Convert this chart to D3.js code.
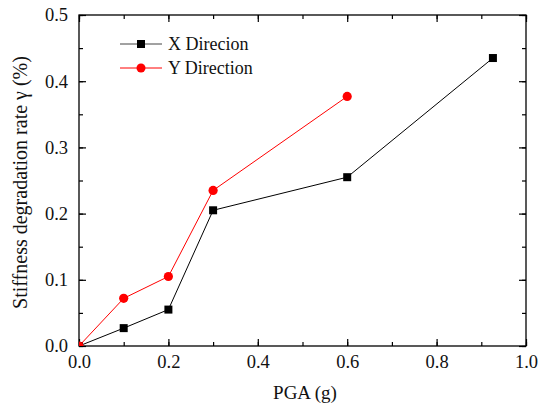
<!DOCTYPE html>
<html>
<head>
<meta charset="utf-8">
<script src="https://cdn.jsdelivr.net/npm/d3@7"></script>
<style>
  html, body { margin: 0; padding: 0; background: #fff; }
</style>
</head>
<body>
<svg id="chart" width="542" height="407"></svg>
<script>
// Stiffness degradation rate versus peak ground acceleration
const pgaX = [0, 0.1, 0.2, 0.3, 0.6, 0.926];
const rateX = [0, 0.027, 0.055, 0.205, 0.255, 0.435];
const pgaY = [0, 0.1, 0.2, 0.3, 0.6];
const rateY = [0, 0.072, 0.105, 0.235, 0.377];
const xTicks = [0, 0.2, 0.4, 0.6, 0.8, 1.0];
const yTicks = [0, 0.1, 0.2, 0.3, 0.4, 0.5];
const seriesNames = ["X Direcion", "Y Direction"];

const FONT = '"Liberation Serif", serif';

const svg = d3.select("#chart");
const m = { left: 79, right: 526, top: 15, bottom: 346 };

const x = d3.scaleLinear().domain([0, 1]).range([m.left, m.right]);
const y = d3.scaleLinear().domain([0, 0.5]).range([m.bottom, m.top]);

const minorX = d3.range(0, 1.0001, 0.1);
const minorY = d3.range(0, 0.5001, 0.05);

// clip region for the plot area
svg.append("defs").append("clipPath").attr("id", "plotClip")
  .append("rect").attr("x", m.left).attr("y", m.top)
  .attr("width", m.right - m.left).attr("height", m.bottom - m.top);

function axisGroup(axis, tx, ty) {
  const g = svg.append("g").attr("transform", `translate(${tx},${ty})`).call(axis);
  g.attr("font-family", null);
  g.select(".domain").remove();
  g.selectAll("line").attr("stroke", "#000").attr("stroke-width", 1.2);
  g.selectAll("text").style("font-family", FONT).attr("fill", "#111");
  return g;
}

// minor ticks (inward, all four sides)
axisGroup(d3.axisBottom(x).tickValues(minorX).tickSize(-4).tickFormat(""), 0, m.bottom);
axisGroup(d3.axisTop(x).tickValues(minorX).tickSize(-4).tickFormat(""), 0, m.top);
axisGroup(d3.axisLeft(y).tickValues(minorY).tickSize(-4).tickFormat(""), m.left, 0);
axisGroup(d3.axisRight(y).tickValues(minorY).tickSize(-4).tickFormat(""), m.right, 0);

// major ticks with labels
const gx = axisGroup(d3.axisBottom(x).tickValues(xTicks).tickSize(-7).tickPadding(9)
  .tickFormat(d3.format(".1f")), 0, m.bottom);
gx.selectAll("text").style("font-size", "18.5px").attr("dy", "0.71em");
const gy = axisGroup(d3.axisLeft(y).tickValues(yTicks).tickSize(-7).tickPadding(11)
  .tickFormat(d3.format(".1f")), m.left, 0);
gy.selectAll("text").style("font-size", "18.5px");
axisGroup(d3.axisTop(x).tickValues(xTicks).tickSize(-7).tickFormat(""), 0, m.top);
axisGroup(d3.axisRight(y).tickValues(yTicks).tickSize(-7).tickFormat(""), m.right, 0);

// frame
svg.append("rect").attr("x", m.left).attr("y", m.top)
  .attr("width", m.right - m.left).attr("height", m.bottom - m.top)
  .attr("fill", "none").attr("stroke", "#000").attr("stroke-width", 1.3);

// axis titles
svg.append("text").attr("x", 305).attr("y", 399)
  .attr("text-anchor", "middle").style("font-family", FONT).style("font-size", "19px")
  .attr("fill", "#111").text("PGA (g)");
svg.append("text")
  .attr("transform", `translate(27,${(m.top + m.bottom) / 2 + 2}) rotate(-90)`)
  .attr("text-anchor", "middle").style("font-family", FONT).style("font-size", "20px")
  .attr("fill", "#111").text("Stiffness degradation rate γ (%)");

const line = d3.line().x(d => x(d[0])).y(d => y(d[1]));
const dataX = pgaX.map((v, i) => [v, rateX[i]]);
const dataY = pgaY.map((v, i) => [v, rateY[i]]);

const plot = svg.append("g").attr("clip-path", "url(#plotClip)");

// X direction: black squares
plot.append("path").datum(dataX).attr("d", line)
  .attr("fill", "none").attr("stroke", "#000").attr("stroke-width", 1);
plot.selectAll(".sq").data(dataX).enter().append("rect")
  .attr("x", d => x(d[0]) - 4).attr("y", d => y(d[1]) - 4)
  .attr("width", 8).attr("height", 8).attr("fill", "#000");

// Y direction: red circles
plot.append("path").datum(dataY).attr("d", line)
  .attr("fill", "none").attr("stroke", "#ff0000").attr("stroke-width", 1);
plot.selectAll(".ci").data(dataY).enter().append("circle")
  .attr("cx", d => x(d[0])).attr("cy", d => y(d[1])).attr("r", 4.6)
  .attr("fill", "#ff0000");

// legend
const legend = svg.append("g");
const lg = [
  { name: seriesNames[0], color: "#000", shape: "square", yy: 44 },
  { name: seriesNames[1], color: "#ff0000", shape: "circle", yy: 68 }
];
lg.forEach(e => {
  legend.append("line").attr("x1", 120).attr("x2", 162).attr("y1", e.yy).attr("y2", e.yy)
    .attr("stroke", e.color === "#000" ? "#444" : e.color).attr("stroke-width", 1);
  if (e.shape === "square") {
    legend.append("rect").attr("x", 137).attr("y", e.yy - 4).attr("width", 8).attr("height", 8)
      .attr("fill", e.color);
  } else {
    legend.append("circle").attr("cx", 141).attr("cy", e.yy).attr("r", 4.5).attr("fill", e.color);
  }
  legend.append("text").attr("x", 168).attr("y", e.yy + 5.5)
    .style("font-family", FONT).style("font-size", "18px").attr("fill", "#111").text(e.name);
});
</script>
</body>
</html>
